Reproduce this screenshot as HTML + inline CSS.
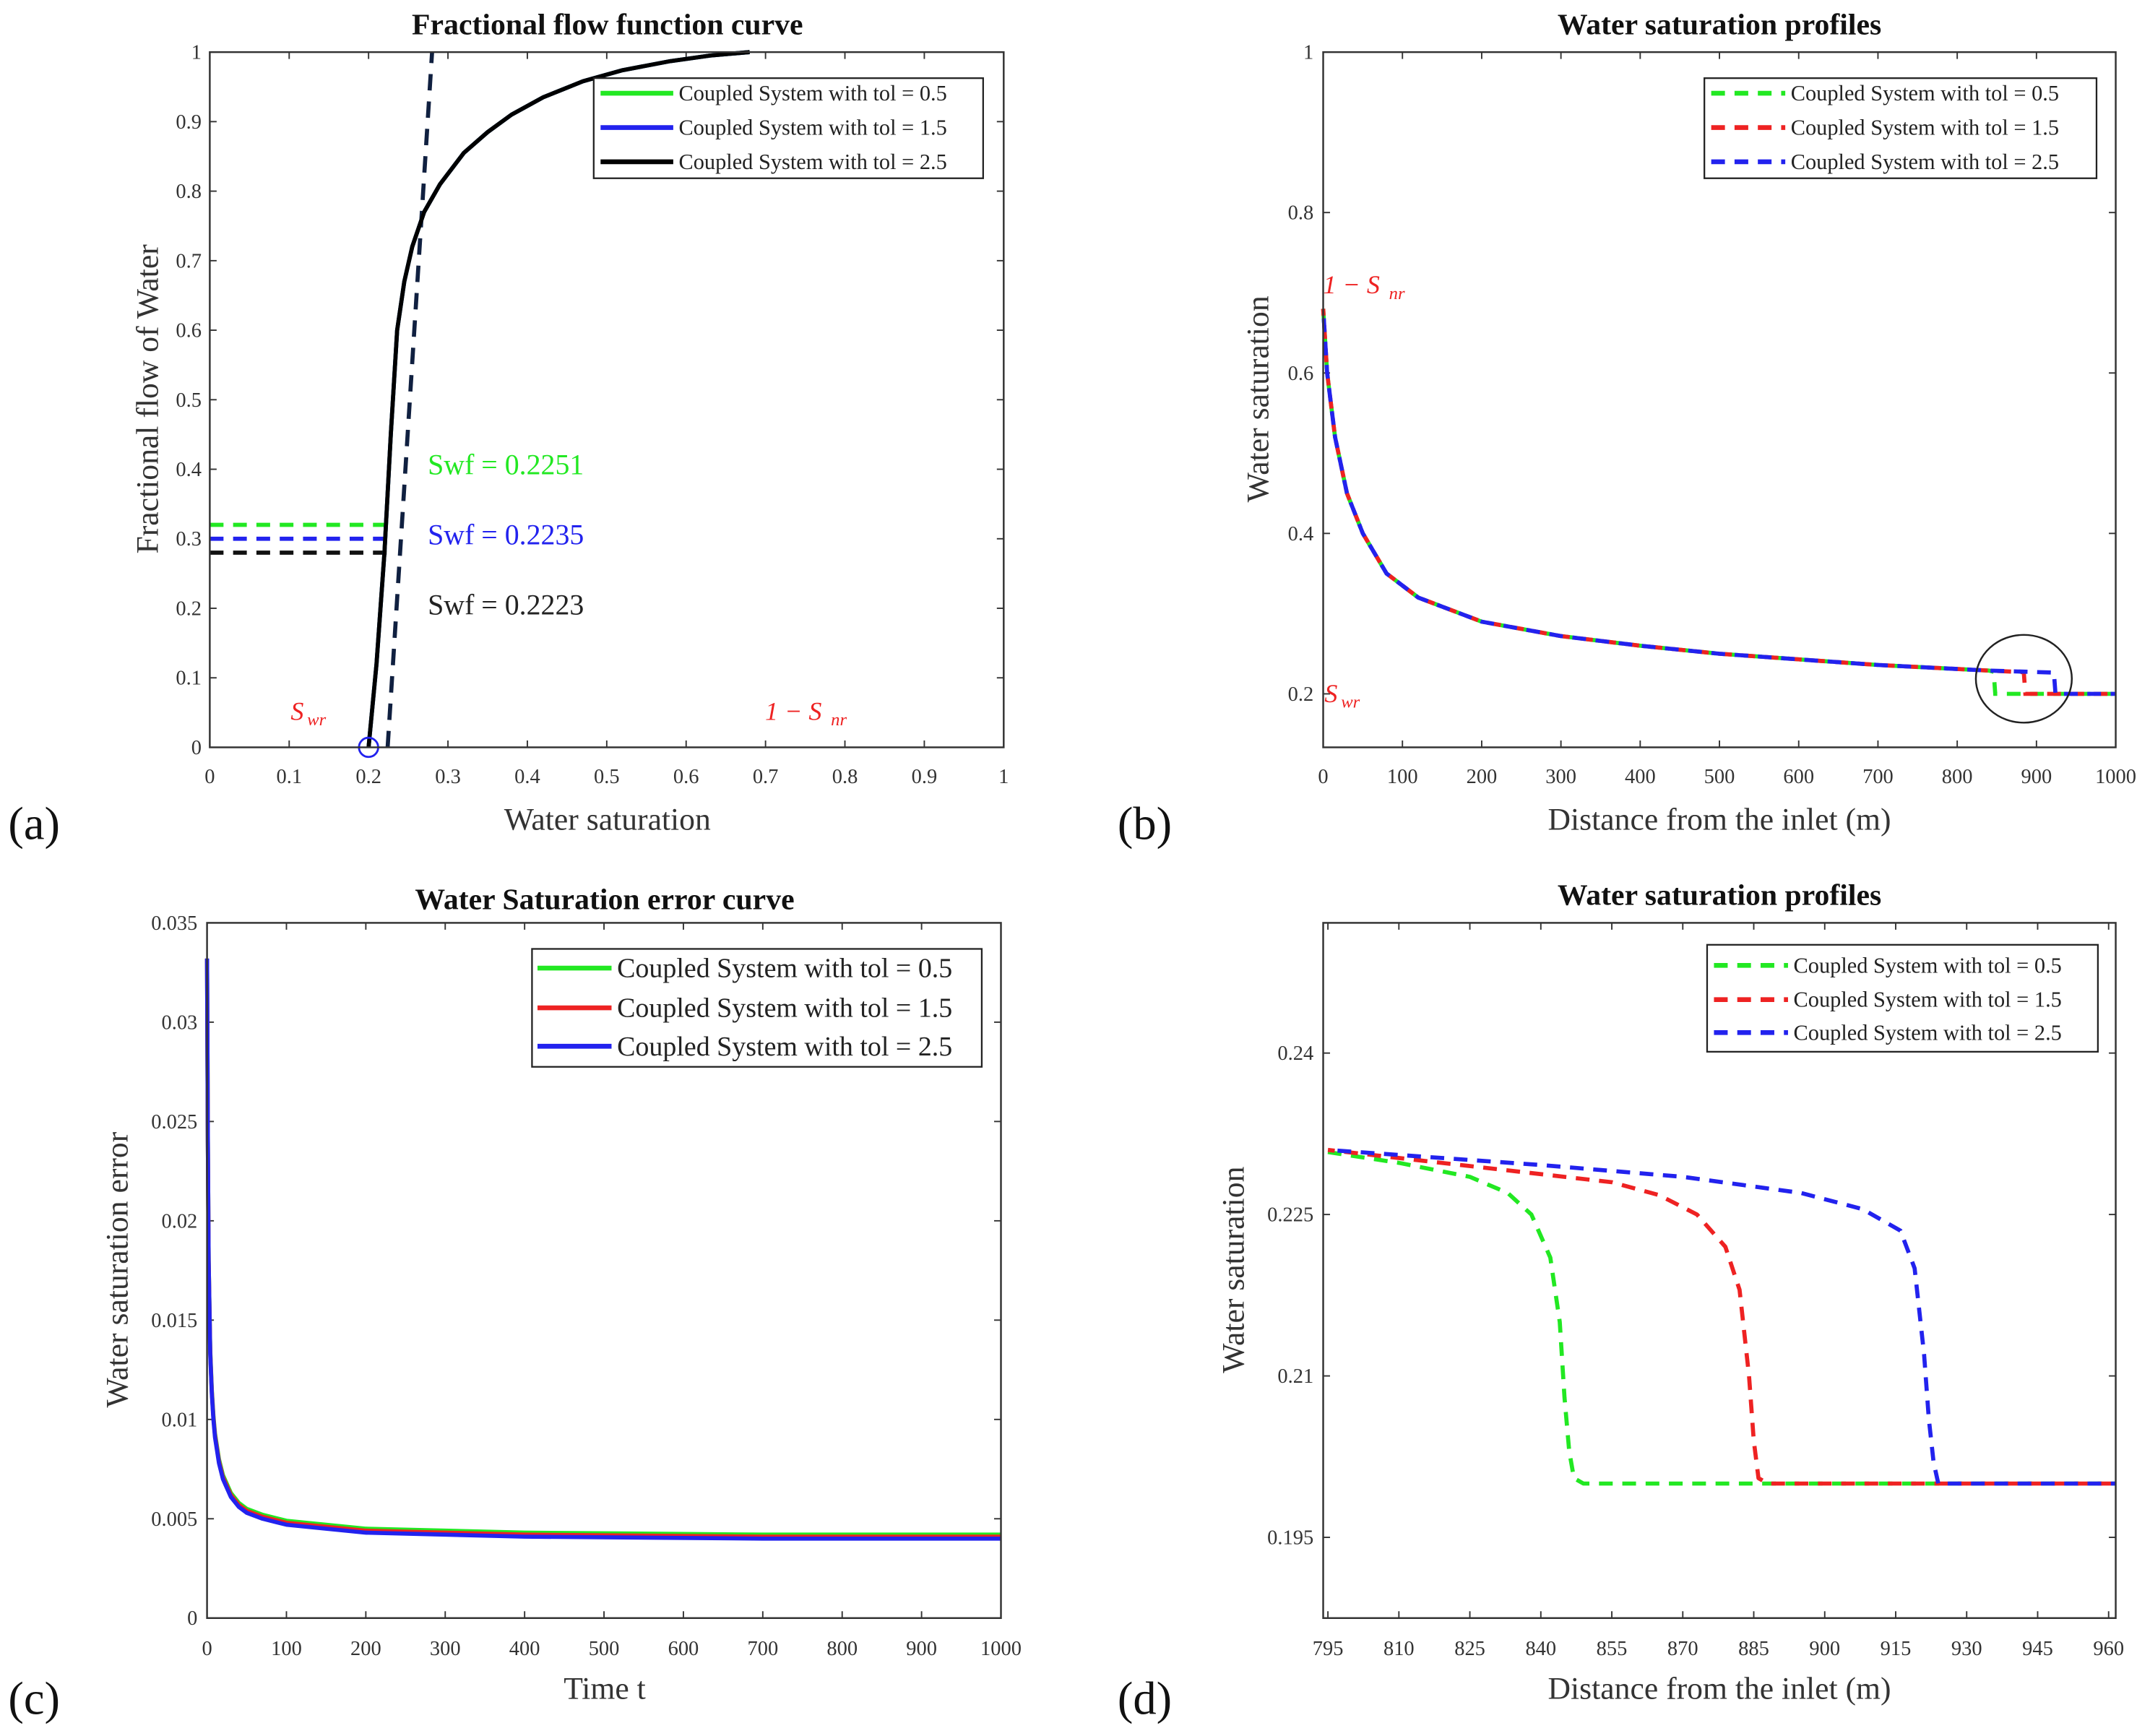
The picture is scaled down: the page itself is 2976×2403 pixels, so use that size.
<!DOCTYPE html>
<html><head><meta charset="utf-8"><style>
html,body{margin:0;padding:0;background:#fff;}
svg{display:block;}
text{font-family:"Liberation Serif",serif;}
</style></head><body>
<svg id="fig" width="2976" height="2403" viewBox="0 0 1568 1266" preserveAspectRatio="none" xmlns="http://www.w3.org/2000/svg"></svg>
<script>
// ---------- Data ----------
// Panel (a)
const fracSw = [0.2,0.21,0.22,0.228,0.236,0.245,0.255,0.27,0.29,0.32,0.35,0.38,0.42,0.47,0.52,0.58,0.63,0.68];
const fracFw = [0,0.12,0.28,0.45,0.6,0.67,0.72,0.77,0.81,0.855,0.885,0.91,0.935,0.958,0.974,0.987,0.995,1];
const tangentSw = [0.224,0.28];
const tangentFw = [0,1];
const swfLevels = [0.32,0.30,0.28];
const swfLabels = ["Swf = 0.2251","Swf = 0.2235","Swf = 0.2223"];
const aTicks = [0,0.1,0.2,0.3,0.4,0.5,0.6,0.7,0.8,0.9,1];
const aTickLabels = ["0","0.1","0.2","0.3","0.4","0.5","0.6","0.7","0.8","0.9","1"];
// Panel (b)
const profX = [0,5,15,30,50,80,120,200,300,400,500,600,700,800,840];
const profY = [0.68,0.6,0.52,0.45,0.4,0.35,0.32,0.29,0.272,0.26,0.25,0.243,0.236,0.231,0.229];
const frontX = [848,886,924];
const bXTicks = [0,100,200,300,400,500,600,700,800,900,1000];
const bYTicks = [0.2,0.4,0.6,0.8,1];
const bYTickLabels = ["0.2","0.4","0.6","0.8","1"];
// Panel (c)
const errT = [0,1,2,4,6,8,10,15,20,30,40,50,70,100,150,200,300,400,700,1000];
const errGreen = [0.0332,0.024,0.018,0.0135,0.0115,0.0102,0.0093,0.0080,0.0072,0.0063,0.0058,0.0055,0.0052,0.0049,0.0047,0.0045,0.0044,0.0043,0.0042,0.0042];
const errRed = [0.0332,0.024,0.018,0.0134,0.0114,0.0101,0.0092,0.0079,0.0071,0.0062,0.0057,0.0054,0.0051,0.0048,0.0046,0.0044,0.0043,0.0042,0.0041,0.0041];
const errBlue = [0.0332,0.024,0.018,0.0133,0.0113,0.0100,0.0091,0.0078,0.0070,0.0061,0.0056,0.0053,0.0050,0.0047,0.0045,0.0043,0.0042,0.0041,0.0040,0.0040];
const cYTicks = [0,0.005,0.01,0.015,0.02,0.025,0.03,0.035];
const cYTickLabels = ["0","0.005","0.01","0.015","0.02","0.025","0.03","0.035"];
const cXTicks = [0,100,200,300,400,500,600,700,800,900,1000];
// Panel (d)
const dGreenX = [795,810,825,833,838,842,844,845,846,847,849,961.5];
const dGreenY = [0.2308,0.2298,0.2285,0.2270,0.2250,0.2210,0.2150,0.2080,0.2030,0.2005,0.2,0.2];
const dRedX = [795,825,855,865,873,879,882,884,885,886,888,961.5];
const dRedY = [0.231,0.2295,0.2280,0.2268,0.2250,0.2220,0.2180,0.2100,0.2040,0.2005,0.2,0.2];
const dBlueX = [795,840,870,895,908,916,919,921,922,923,924,961.5];
const dBlueY = [0.231,0.2296,0.2285,0.2270,0.2255,0.2235,0.2200,0.2120,0.2060,0.2020,0.2,0.2];
const dXTicks = [795,810,825,840,855,870,885,900,915,930,945,960];
const dYTicks = [0.195,0.21,0.225,0.24];
const dYTickLabels = ["0.195","0.21","0.225","0.24"];
const legendLabels = ["Coupled System with tol = 0.5","Coupled System with tol = 1.5","Coupled System with tol = 2.5"];

// ---------- Helpers ----------
const NS="http://www.w3.org/2000/svg";
const svg=document.getElementById('fig');
function el(tag,attrs,parent,txt){const e=document.createElementNS(NS,tag);for(const k in attrs)e.setAttribute(k,attrs[k]);if(txt!==undefined)e.textContent=txt;(parent||svg).appendChild(e);return e;}
function scale(d0,d1,r0,r1){return v=>r0+(v-d0)/(d1-d0)*(r1-r0);}
function pathD(xs,ys,sx,sy){return xs.map((x,i)=>(i?'L':'M')+sx(x).toFixed(2)+' '+sy(ys[i]).toFixed(2)).join(' ');}

function axesBox(g,x0,y0,x1,y1,name){
  const r=el('rect',{x:x0,y:y0,width:x1-x0,height:y1-y0,fill:'none',stroke:'#333','stroke-width':1.3},g);
  
  
}
function xTicks(g,vals,labels,sx,y0,y1,ly,name){
  vals.forEach((v,i)=>{const x=sx(v);
    el('line',{x1:x,y1:y1,x2:x,y2:y1-5,stroke:'#333','stroke-width':1},g);
    el('line',{x1:x,y1:y0,x2:x,y2:y0+5,stroke:'#333','stroke-width':1},g);
    const t=el('text',{x:x,y:ly,'text-anchor':'middle','font-size':15,fill:'#333'},g,labels[i]);
    
    
  });
}
function yTicks(g,vals,labels,sy,x0,x1,lx,name){
  vals.forEach((v,i)=>{const y=sy(v);
    el('line',{x1:x0,y1:y,x2:x0+5,y2:y,stroke:'#333','stroke-width':1},g);
    el('line',{x1:x1,y1:y,x2:x1-5,y2:y,stroke:'#333','stroke-width':1},g);
    const t=el('text',{x:lx,y:y+5,'text-anchor':'end','font-size':15,fill:'#333'},g,labels[i]);
    
    
  });
}
function label(g,txt,x,y,opts,name){
  const t=el('text',Object.assign({x:x,y:y},opts),g,txt);
  
  
  return t;
}
function legend(g,x0,y0,x1,y1,rows,colors,dash,fs,lineX0,lineX1,name){
  const lg=el('g',{},g);
  
  
  el('rect',{x:x0,y:y0,width:x1-x0,height:y1-y0,fill:'#fff',stroke:'#222','stroke-width':1.2},lg);
  rows.forEach((ry,i)=>{
    const ln=el('line',{x1:lineX0,y1:ry,x2:lineX1,y2:ry,stroke:colors[i],'stroke-width':3.5,'stroke-dasharray':dash?'10,7':'none'},lg);
    
    
    const t=el('text',{x:lineX1+4,y:ry+fs*0.33,'font-size':fs,fill:'#222'},lg,legendLabels[i]);
    
    
  });
}

// ---------- Panel (a) ----------
{
const g=el('g',{});


const sx=scale(0,1,153,732), sy=scale(0,1,545,38);
label(g,'Fractional flow function curve',443,25,{'text-anchor':'middle','font-size':22,'font-weight':'bold',fill:'#111'},'chart-title');
xTicks(g,aTicks,aTickLabels,sx,38,545,571,'x-tick-label');
yTicks(g,aTicks,aTickLabels,sy,153,732,147,'y-tick-label');
label(g,'Water saturation',443,605,{'text-anchor':'middle','font-size':23,fill:'#333'},'x-axis-title');
label(g,'Fractional flow of Water',0,0,{'text-anchor':'middle','font-size':23,fill:'#333',transform:'translate(115,291) rotate(-90)'},'y-axis-title');
const hc=['#22e822','#2222ee','#111'];
swfLevels.forEach((v,i)=>{const l=el('line',{x1:sx(0),y1:sy(v),x2:sx(0.225),y2:sy(v),stroke:hc[i],'stroke-width':3,'stroke-dasharray':'10,7'},g);
  
  });
const tl=el('path',{d:pathD(tangentSw,tangentFw,sx,sy),fill:'none',stroke:'#102040','stroke-width':3,'stroke-dasharray':'12,8'},g);


const cols=['#22e822','#2222ee','#000'];
cols.forEach((c,i)=>{const p=el('path',{d:pathD(fracSw,fracFw,sx,sy),fill:'none',stroke:c,'stroke-width':3,'stroke-linejoin':'round'},g);
  
  });
const circ=el('circle',{cx:sx(0.2),cy:sy(0),r:7,fill:'none',stroke:'#2222ee','stroke-width':1.5},g);


const lc=['#22e822','#2222ee','#222'];
swfLabels.forEach((s,i)=>label(g,s,312,346+i*51,{'font-size':21,fill:lc[i]},'swf-annotation'));
label(g,'S',212,525,{'font-size':19,fill:'#e22','font-style':'italic'},'swr-label');
label(g,'wr',224,529,{'font-size':13,fill:'#e22','font-style':'italic'},'swr-subscript');
label(g,'1 − S',558,525,{'font-size':19,fill:'#e22','font-style':'italic'},'snr-label');
label(g,'nr',606,529,{'font-size':13,fill:'#e22','font-style':'italic'},'snr-subscript');
axesBox(g,153,38,732,545,'plot-area-a');
legend(g,433,57,717,130,[68,93,118],cols,false,16,438,491,'legend-a');
label(g,'(a)',6,612,{'font-size':34,fill:'#111','font-family':'"Liberation Sans",sans-serif'},'panel-label-a');
}

// ---------- Panel (b) ----------
{
const g=el('g',{});


const sx=scale(0,1000,965,1543), sy=scale(0.2,1,506,38);
label(g,'Water saturation profiles',1254,25,{'text-anchor':'middle','font-size':22,'font-weight':'bold',fill:'#111'},'chart-title');
xTicks(g,bXTicks,bXTicks.map(String),sx,38,545,571,'x-tick-label');
yTicks(g,bYTicks,bYTickLabels,sy,965,1543,958,'y-tick-label');
label(g,'Distance from the inlet (m)',1254,605,{'text-anchor':'middle','font-size':23,fill:'#333'},'x-axis-title');
label(g,'Water saturation',0,0,{'text-anchor':'middle','font-size':23,fill:'#333',transform:'translate(925,291) rotate(-90)'},'y-axis-title');
const cols=['#22e822','#ee2222','#2222ee'];
frontX.forEach((fx,i)=>{
  const xs=profX.concat([fx-2,fx,1000]);
  const ys=profY.concat([0.2275-0.0005*i,0.2,0.2]);
  const p=el('path',{d:pathD(xs,ys,sx,sy),fill:'none',stroke:cols[i],'stroke-width':3,'stroke-dasharray':'10,7','stroke-dashoffset':i*5},g);
  
  
});
const ell=el('ellipse',{cx:1476,cy:495,rx:35,ry:32,fill:'none',stroke:'#222','stroke-width':1.3},g);


label(g,'1 − S',965,214,{'font-size':19,fill:'#e22','font-style':'italic'},'snr-label');
label(g,'nr',1013,218,{'font-size':13,fill:'#e22','font-style':'italic'},'snr-subscript');
label(g,'S',966,512,{'font-size':19,fill:'#e22','font-style':'italic'},'swr-label');
label(g,'wr',978,516,{'font-size':13,fill:'#e22','font-style':'italic'},'swr-subscript');
axesBox(g,965,38,1543,545,'plot-area-b');
legend(g,1243,57,1529,130,[68,93,118],cols,true,16,1248,1302,'legend-b');
label(g,'(b)',815,612,{'font-size':34,fill:'#111','font-family':'"Liberation Sans",sans-serif'},'panel-label-b');
}

// ---------- Panel (c) ----------
{
const g=el('g',{});


const sx=scale(0,1000,151,730), sy=scale(0,0.035,1180,673);
label(g,'Water Saturation error curve',441,663,{'text-anchor':'middle','font-size':22,'font-weight':'bold',fill:'#111'},'chart-title');
xTicks(g,cXTicks,cXTicks.map(String),sx,673,1180,1207,'x-tick-label');
yTicks(g,cYTicks,cYTickLabels,sy,151,730,144,'y-tick-label');
label(g,'Time t',441,1239,{'text-anchor':'middle','font-size':23,fill:'#333'},'x-axis-title');
label(g,'Water saturation error',0,0,{'text-anchor':'middle','font-size':23,fill:'#333',transform:'translate(93,926) rotate(-90)'},'y-axis-title');
const cols=['#22e822','#ee2222','#2222ee'];
[errGreen,errRed,errBlue].forEach((s,i)=>{const p=el('path',{d:pathD(errT,s,sx,sy),fill:'none',stroke:cols[i],'stroke-width':3,'stroke-linejoin':'round'},g);
  
  });
axesBox(g,151,673,730,1180,'plot-area-c');
legend(g,388,692,716,778,[706,735,763],cols,false,20,392,446,'legend-c');
label(g,'(c)',6,1250,{'font-size':34,fill:'#111','font-family':'"Liberation Sans",sans-serif'},'panel-label-c');
}

// ---------- Panel (d) ----------
{
const g=el('g',{});


const sx=scale(794,961.5,965,1543), sy=scale(0.1875,0.2521,1180,673);
label(g,'Water saturation profiles',1254,660,{'text-anchor':'middle','font-size':22,'font-weight':'bold',fill:'#111'},'chart-title');
xTicks(g,dXTicks,dXTicks.map(String),sx,673,1180,1207,'x-tick-label');
yTicks(g,dYTicks,dYTickLabels,sy,965,1543,958,'y-tick-label');
label(g,'Distance from the inlet (m)',1254,1239,{'text-anchor':'middle','font-size':23,fill:'#333'},'x-axis-title');
label(g,'Water saturation',0,0,{'text-anchor':'middle','font-size':23,fill:'#333',transform:'translate(907,926) rotate(-90)'},'y-axis-title');
const cols=['#22e822','#ee2222','#2222ee'];
[[dGreenX,dGreenY],[dRedX,dRedY],[dBlueX,dBlueY]].forEach((s,i)=>{const p=el('path',{d:pathD(s[0],s[1],sx,sy),fill:'none',stroke:cols[i],'stroke-width':3,'stroke-dasharray':'10,7','stroke-dashoffset':i*5,'stroke-linejoin':'round'},g);
  
  });
axesBox(g,965,673,1543,1180,'plot-area-d');
legend(g,1245,689,1530,767,[704,729,753],cols,true,16,1250,1304,'legend-d');
label(g,'(d)',815,1250,{'font-size':34,fill:'#111','font-family':'"Liberation Sans",sans-serif'},'panel-label-d');
}
</script>
</body></html>
